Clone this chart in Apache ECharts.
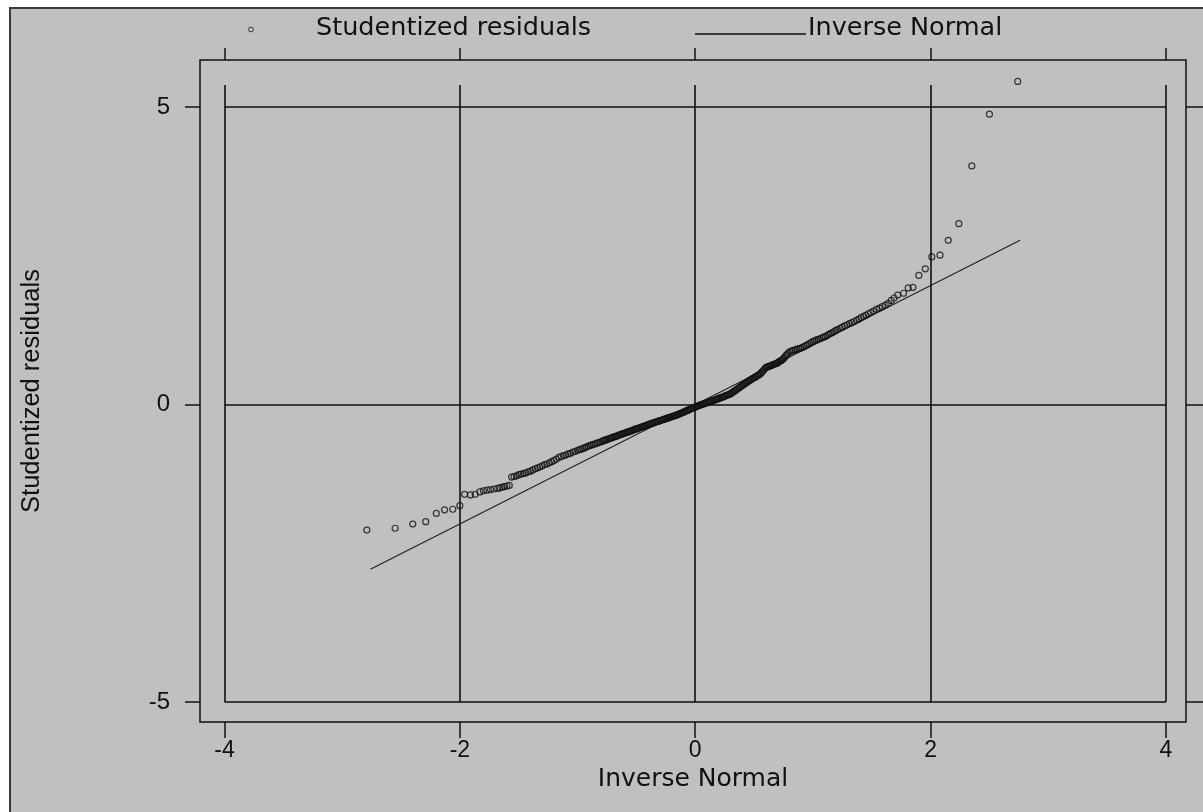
<!DOCTYPE html>
<html>
<head>
<meta charset="utf-8">
<title>Normal probability plot of studentized residuals</title>
<script src="https://cdn.jsdelivr.net/npm/echarts@6/dist/echarts.min.js"></script>
<style>
  html, body { margin: 0; padding: 0; background: #ffffff; }
  #chart { width: 1203px; height: 812px; }
</style>
</head>
<body>
<div id="chart"></div>
<script>
// Inverse-normal quantiles (x) and sorted studentized residuals (y)
const normalQuantiles = [
  // lower tail
  -2.79, -2.55, -2.40, -2.29, -2.20, -2.13, -2.06, -2.00, -1.96, -1.91,
  -1.87, -1.83, -1.80, -1.77, -1.74, -1.71, -1.68, -1.66, -1.64, -1.62,
  -1.60, -1.58, -1.56, -1.54, -1.52, -1.50, -1.48, -1.46, -1.44, -1.42,
  -1.40, -1.38, -1.36,
  -1.34, -1.32, -1.30, -1.28, -1.26, -1.24, -1.22, -1.20, -1.18, -1.16,
  -1.14, -1.12, -1.10, -1.08, -1.06, -1.04, -1.02, -1.00,
  -0.985, -0.97, -0.955, -0.94, -0.925, -0.91, -0.895, -0.88, -0.865, -0.85,
  -0.835, -0.82, -0.805,
  // dense middle
  -0.79, -0.78, -0.77, -0.76, -0.75, -0.74, -0.73, -0.72, -0.71, -0.70,
  -0.69, -0.68, -0.67, -0.66, -0.65, -0.64, -0.63, -0.62, -0.61, -0.60,
  -0.59, -0.58, -0.57, -0.56, -0.55, -0.54, -0.53, -0.52, -0.51, -0.50,
  -0.49, -0.48, -0.47, -0.46, -0.45, -0.44, -0.43, -0.42, -0.41, -0.40,
  -0.39, -0.38, -0.37, -0.36, -0.35, -0.34, -0.33, -0.32, -0.31, -0.30,
  -0.29, -0.28, -0.27, -0.26, -0.25, -0.24, -0.23, -0.22, -0.21, -0.20,
  -0.19, -0.18, -0.17, -0.16, -0.15, -0.14, -0.13, -0.12, -0.11, -0.10,
  -0.09, -0.08, -0.07, -0.06, -0.05, -0.04, -0.03, -0.02, -0.01, 0.00,
  0.01, 0.02, 0.03, 0.04, 0.05, 0.06, 0.07, 0.08, 0.09, 0.10,
  0.11, 0.12, 0.13, 0.14, 0.15, 0.16, 0.17, 0.18, 0.19, 0.20,
  0.21, 0.22, 0.23, 0.24, 0.25, 0.26, 0.27, 0.28, 0.29, 0.30,
  0.31, 0.32, 0.33, 0.34, 0.35, 0.36, 0.37, 0.38, 0.39, 0.40,
  0.41, 0.42, 0.43, 0.44, 0.45, 0.46, 0.47, 0.48, 0.49, 0.50,
  0.51, 0.52, 0.53, 0.54, 0.55, 0.56, 0.57, 0.58, 0.59, 0.60,
  0.61, 0.62, 0.63, 0.64, 0.65, 0.66, 0.67, 0.68, 0.69, 0.70,
  0.71, 0.72, 0.73, 0.74, 0.75, 0.76, 0.77, 0.78, 0.79,
  0.805, 0.82, 0.835, 0.85, 0.865, 0.88, 0.895, 0.91, 0.925, 0.94,
  0.955, 0.97, 0.985, 1.00, 1.015, 1.03, 1.045, 1.06, 1.075, 1.09,
  1.105, 1.12, 1.135, 1.15, 1.165, 1.18, 1.195,
  1.21, 1.23, 1.25, 1.27, 1.29, 1.31, 1.33, 1.35, 1.37, 1.39,
  1.41, 1.43, 1.45, 1.47, 1.49,
  1.515, 1.54, 1.565, 1.59, 1.615, 1.64, 1.665,
  // upper tail
  1.69, 1.72, 1.77, 1.81, 1.85, 1.90, 1.955, 2.01, 2.08, 2.15,
  2.24, 2.35, 2.50, 2.74
];
const studentizedResiduals = [
  // lower tail
  -2.11, -2.08, -2.01, -1.97, -1.83, -1.77, -1.76, -1.70, -1.51, -1.52,
  -1.51, -1.47, -1.45, -1.44, -1.43, -1.42, -1.41, -1.40, -1.39, -1.38,
  -1.37, -1.36, -1.22, -1.21, -1.20, -1.18, -1.17, -1.16, -1.15, -1.13,
  -1.12, -1.10, -1.08,
  -1.065, -1.05, -1.03, -1.01, -1.00, -0.98, -0.96, -0.94, -0.92, -0.89,
  -0.875, -0.86, -0.85, -0.83, -0.82, -0.80, -0.79, -0.77,
  -0.76, -0.75, -0.74, -0.725, -0.715, -0.70, -0.69, -0.68, -0.67, -0.66,
  -0.65, -0.64, -0.63,
  // dense middle
  -0.617, -0.61, -0.60, -0.595, -0.59, -0.58, -0.575, -0.565, -0.56, -0.55,
  -0.545, -0.54, -0.53, -0.525, -0.515, -0.51, -0.50, -0.495, -0.49, -0.48,
  -0.475, -0.465, -0.46, -0.455, -0.445, -0.44, -0.43, -0.425, -0.415, -0.41,
  -0.405, -0.395, -0.39, -0.38, -0.375, -0.37, -0.36, -0.355, -0.345, -0.34,
  -0.33, -0.325, -0.32, -0.31, -0.305, -0.30, -0.29, -0.285, -0.28, -0.27,
  -0.265, -0.26, -0.25, -0.245, -0.24, -0.23, -0.225, -0.22, -0.21, -0.205,
  -0.20, -0.19, -0.185, -0.18, -0.17, -0.16, -0.155, -0.145, -0.135, -0.13,
  -0.12, -0.11, -0.10, -0.095, -0.085, -0.075, -0.065, -0.06, -0.05, -0.04,
  -0.035, -0.025, -0.02, -0.01, -0.005, 0.00, 0.01, 0.015, 0.025, 0.03,
  0.04, 0.045, 0.05, 0.06, 0.065, 0.07, 0.08, 0.085, 0.095, 0.10,
  0.11, 0.115, 0.125, 0.13, 0.14, 0.15, 0.155, 0.165, 0.17, 0.18,
  0.195, 0.21, 0.22, 0.235, 0.25, 0.265, 0.28, 0.29, 0.305, 0.32,
  0.335, 0.35, 0.36, 0.375, 0.39, 0.40, 0.415, 0.425, 0.44, 0.45,
  0.46, 0.475, 0.485, 0.50, 0.51, 0.53, 0.555, 0.575, 0.60, 0.62,
  0.63, 0.635, 0.645, 0.65, 0.66, 0.67, 0.675, 0.685, 0.69, 0.70,
  0.715, 0.73, 0.74, 0.755, 0.77, 0.795, 0.82, 0.84, 0.865,
  0.89, 0.90, 0.91, 0.92, 0.93, 0.94, 0.945, 0.96, 0.975, 0.99,
  1.005, 1.025, 1.04, 1.06, 1.07, 1.085, 1.095, 1.105, 1.12, 1.13,
  1.145, 1.16, 1.18, 1.195, 1.21, 1.225, 1.245,
  1.26, 1.28, 1.30, 1.32, 1.34, 1.36, 1.375, 1.395, 1.415, 1.435,
  1.46, 1.48, 1.50, 1.525, 1.545,
  1.57, 1.60, 1.62, 1.645, 1.67, 1.70, 1.75,
  // upper tail
  1.79, 1.84, 1.87, 1.96, 1.97, 2.17, 2.28, 2.48, 2.51, 2.76,
  3.04, 4.01, 4.88, 5.43
];

// Normal reference line end points
const refLineX = [-2.76, 2.76];
const refLineY = [-2.77, 2.76];

// Axis ticks and labels
const xTicks = [-4, -2, 0, 2, 4];
const yTicks = [-5, 0, 5];
const xTickLabels = ['-4', '-2', '0', '2', '4'];
const yTickLabels = ['-5', '0', '5'];

const xTitle = 'Inverse Normal';
const yTitle = 'Studentized residuals';
const legendNames = ['Studentized residuals', 'Inverse Normal'];

// Plot-region extent in data units
const xMin = -4.208, xMax = 4.17;
const yMin = -5.336, yMax = 5.79;
const gridTopY = 5.37;

const INK = '#111111';
const BG = '#c0c0c0';

const points = normalQuantiles.map((x, i) => [x, studentizedResiduals[i]]);
const refLine = refLineX.map((x, i) => [x, refLineY[i]]);

// Inner grid lines: verticals at x ticks, horizontals at y ticks
const gridSegments = [];
xTicks.forEach(x => gridSegments.push([{ coord: [x, yTicks[0]] }, { coord: [x, gridTopY] }]));
yTicks.forEach(y => gridSegments.push([{ coord: [xTicks[0], y] }, { coord: [xTicks[xTicks.length - 1], y] }]));

const chart = echarts.init(document.getElementById('chart'), null, { renderer: 'canvas' });

const tickStyle = { show: true, inside: false, lineStyle: { color: INK, width: 1.5 } };
const hiddenLine = { show: false, onZero: false };

chart.setOption({
  animation: false,
  backgroundColor: '#ffffff',
  graphic: [
    {
      type: 'rect', z: -10, silent: true,
      shape: { x: 10, y: 8, width: 1230, height: 840 },
      style: { fill: BG, stroke: '#3a3a3a', lineWidth: 2 }
    },
    {
      type: 'circle', z: 10, silent: true,
      shape: { cx: 251, cy: 29.5, r: 2.4 },
      style: { fill: 'none', stroke: '#333', lineWidth: 1 }
    },
    {
      type: 'text', z: 10, silent: true, x: 316, y: 28,
      style: { text: legendNames[0], font: '25.5px "DejaVu Sans"', fill: INK, align: 'left', verticalAlign: 'middle' }
    },
    {
      type: 'line', z: 10, silent: true,
      shape: { x1: 695, y1: 34, x2: 806, y2: 34 },
      style: { stroke: INK, lineWidth: 1.3 }
    },
    {
      type: 'text', z: 10, silent: true, x: 808, y: 28,
      style: { text: legendNames[1], font: '25.5px "DejaVu Sans"', fill: INK, align: 'left', verticalAlign: 'middle' }
    }
  ],
  grid: {
    left: 200, top: 60, width: 986, height: 662,
    show: true, borderColor: INK, borderWidth: 1.5, backgroundColor: 'transparent'
  },
  xAxis: [
    {
      type: 'value', position: 'bottom', min: xMin, max: xMax,
      axisLine: hiddenLine,
      splitLine: { show: false },
      axisTick: Object.assign({ length: 16, customValues: xTicks }, tickStyle),
      axisLabel: {
        customValues: xTicks,
        formatter: v => xTickLabels[xTicks.indexOf(Math.round(v))],
        margin: 17, color: INK, fontSize: 23, fontFamily: 'Liberation Sans'
      },
      name: xTitle, nameLocation: 'middle', nameGap: 40,
      nameTextStyle: { color: INK, fontSize: 25, fontFamily: 'DejaVu Sans' }
    },
    {
      type: 'value', position: 'top', min: xMin, max: xMax,
      axisLine: hiddenLine, splitLine: { show: false },
      axisTick: Object.assign({ length: 12, customValues: xTicks }, tickStyle),
      axisLabel: { show: false }
    }
  ],
  yAxis: [
    {
      type: 'value', position: 'left', min: yMin, max: yMax,
      axisLine: hiddenLine, splitLine: { show: false },
      axisTick: Object.assign({ length: 15, customValues: yTicks }, tickStyle),
      axisLabel: {
        customValues: yTicks,
        formatter: v => yTickLabels[yTicks.indexOf(Math.round(v))],
        margin: 30, color: INK, fontSize: 24, fontFamily: 'Liberation Sans'
      },
      name: yTitle, nameLocation: 'middle', nameGap: 155, nameRotate: 90,
      nameTextStyle: { color: INK, fontSize: 25.5, fontFamily: 'Liberation Sans' }
    },
    {
      type: 'value', position: 'right', min: yMin, max: yMax,
      axisLine: hiddenLine, splitLine: { show: false },
      axisTick: Object.assign({ length: 20, customValues: yTicks }, tickStyle),
      axisLabel: { show: false }
    }
  ],
  series: [
    {
      name: legendNames[1],
      type: 'line',
      data: refLine,
      symbol: 'none',
      lineStyle: { color: '#222', width: 1.2 },
      silent: true,
      z: 3,
      markLine: {
        silent: true,
        symbol: ['none', 'none'],
        label: { show: false },
        lineStyle: { color: INK, width: 1.6, type: 'solid' },
        emphasis: { disabled: true },
        data: gridSegments,
        z: 1
      }
    },
    {
      name: legendNames[0],
      type: 'scatter',
      data: points,
      symbol: 'circle',
      symbolSize: 6,
      itemStyle: { color: 'rgba(0,0,0,0)', borderColor: '#111111', borderWidth: 1.2 },
      silent: true,
      z: 4
    }
  ]
});
</script>
</body>
</html>
